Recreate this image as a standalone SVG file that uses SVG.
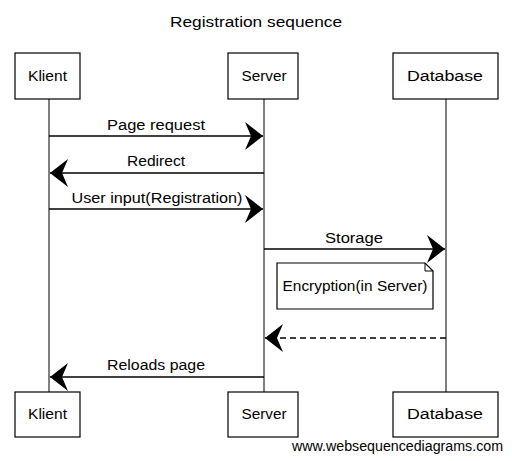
<svg xmlns="http://www.w3.org/2000/svg" width="512" height="461" viewBox="0 0 512 461">
<style>
.box{fill:#fff;stroke:#000;stroke-width:1.2}
.life{stroke:#000;stroke-width:1;fill:none}
.msg{stroke:#000;stroke-width:1.3;fill:none}
.dash{stroke-dasharray:6 4}
.t{font-family:"Liberation Sans",Arial,sans-serif;font-size:14px;fill:#000;text-anchor:middle}
.wm{font-family:"Liberation Sans",Arial,sans-serif;font-size:14px;fill:#000}
</style>
<defs>
<marker id="ah" viewBox="0 0 19 30" refX="18" refY="15" markerWidth="19" markerHeight="30" markerUnits="userSpaceOnUse" orient="auto">
<path d="M0,1 L18,15 L0,29 L6,15 Z" fill="#000"/>
</marker>
</defs>
<rect width="512" height="461" fill="#fff"/>
<text class="t" x="256" y="27" font-size="15" textLength="172" lengthAdjust="spacingAndGlyphs">Registration sequence</text>
<g id="lifelines">
<line class="life" x1="49" y1="99" x2="49" y2="392"/>
<line class="life" x1="264" y1="99" x2="264" y2="392"/>
<line class="life" x1="446" y1="99" x2="446" y2="392"/>
</g>
<g id="klient-top"><rect class="box" x="15" y="53" width="65" height="46"/><text class="t" x="47.5" y="81" textLength="39" lengthAdjust="spacingAndGlyphs">Klient</text></g>
<g id="server-top"><rect class="box" x="228" y="53" width="70" height="46"/><text class="t" x="264" y="81" textLength="45" lengthAdjust="spacingAndGlyphs">Server</text></g>
<g id="database-top"><rect class="box" x="393" y="53" width="105" height="46"/><text class="t" x="445" y="81" textLength="76" lengthAdjust="spacingAndGlyphs">Database</text></g>
<g id="klient-bottom"><rect class="box" x="15" y="392" width="65" height="45"/><text class="t" x="47.5" y="419" textLength="39" lengthAdjust="spacingAndGlyphs">Klient</text></g>
<g id="server-bottom"><rect class="box" x="228" y="392" width="70" height="45"/><text class="t" x="264" y="419" textLength="45" lengthAdjust="spacingAndGlyphs">Server</text></g>
<g id="database-bottom"><rect class="box" x="393" y="392" width="105" height="45"/><text class="t" x="445" y="419" textLength="76" lengthAdjust="spacingAndGlyphs">Database</text></g>
<g id="note">
<path class="box" d="M277,263 L425,263 L433,271 L433,309 L277,309 Z"/>
<path d="M425,263 L425,271 L433,271" fill="none" stroke="#000" stroke-width="1"/>
<text class="t" x="355" y="291" textLength="145" lengthAdjust="spacingAndGlyphs">Encryption(in Server)</text>
</g>
<g id="connectors">
<line class="msg" x1="49" y1="136" x2="263" y2="136" marker-end="url(#ah)"/>
<text class="t" x="156" y="130" textLength="98" lengthAdjust="spacingAndGlyphs">Page request</text>
<line class="msg" x1="264" y1="173" x2="50" y2="173" marker-end="url(#ah)"/>
<text class="t" x="156" y="166" textLength="58" lengthAdjust="spacingAndGlyphs">Redirect</text>
<line class="msg" x1="49" y1="209" x2="263" y2="209" marker-end="url(#ah)"/>
<text class="t" x="157" y="203" textLength="171" lengthAdjust="spacingAndGlyphs">User input(Registration)</text>
<line class="msg" x1="264" y1="249" x2="445" y2="249" marker-end="url(#ah)"/>
<text class="t" x="354" y="243" textLength="58" lengthAdjust="spacingAndGlyphs">Storage</text>
<line class="msg dash" x1="446" y1="338" x2="265" y2="338" marker-end="url(#ah)"/>
<line class="msg" x1="264" y1="377" x2="50" y2="377" marker-end="url(#ah)"/>
<text class="t" x="156" y="370" textLength="98" lengthAdjust="spacingAndGlyphs">Reloads page</text>
</g>
<text class="wm" x="292" y="451" textLength="211" lengthAdjust="spacingAndGlyphs">www.websequencediagrams.com</text>
</svg>
